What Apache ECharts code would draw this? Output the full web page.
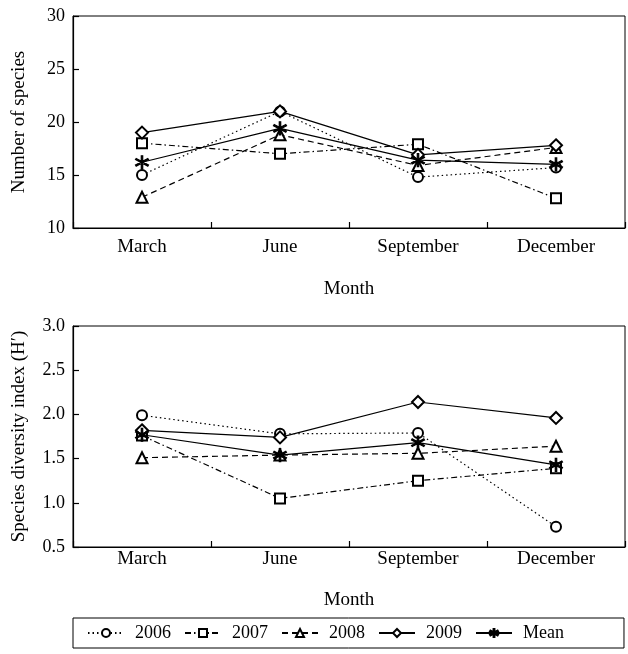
<!DOCTYPE html>
<html>
<head>
<meta charset="utf-8">
<script src="https://cdn.jsdelivr.net/npm/echarts@6/dist/echarts.min.js"></script>
<style>
  html, body { margin: 0; padding: 0; background: #fff; }
  #chart { width: 628px; height: 654px; }
</style>
</head>
<body>
<div id="chart"></div>
<script>
// Species number and diversity by month, 2006-2009 + mean

const months = ['March', 'June', 'September', 'December'];
const seriesNames = ['2006', '2007', '2008', '2009', 'Mean'];

// top panel: number of species
const species2006 = [15, 21, 14.8, 15.7];
const species2007 = [18, 17, 17.9, 12.8];
const species2008 = [12.9, 18.8, 15.9, 17.6];
const species2009 = [19, 21, 16.9, 17.8];
const speciesMean = [16.2, 19.4, 16.4, 16.0];

// bottom panel: diversity index H'
const diversity2006 = [1.99, 1.78, 1.79, 0.73];
const diversity2007 = [1.76, 1.05, 1.25, 1.39];
const diversity2008 = [1.51, 1.54, 1.56, 1.64];
const diversity2009 = [1.82, 1.74, 2.14, 1.96];
const diversityMean = [1.77, 1.54, 1.68, 1.43];

const speciesTicks = [10, 30, 5];
const diversityTicks = [0.5, 3.0, 0.5];

// asterisk marker for the mean
const star = 'path://M-1,-10L1,-10L1,10L-1,10Z' +
  'M9.16,4.134L8.16,5.866L-9.16,-4.134L-8.16,-5.866Z' +
  'M8.16,-5.866L9.16,-4.134L-8.16,5.866L-9.16,4.134Z';

const styles = {
  '2006': { symbol: 'emptyCircle', size: 10, dash: [1.5, 3] },
  '2007': { symbol: 'emptyRect', size: 10, dash: [6, 3, 1.5, 3] },
  '2008': { symbol: 'emptyTriangle', size: 11, dash: [6, 4] },
  '2009': { symbol: 'emptyDiamond', size: 12, dash: 'solid' },
  'Mean': { symbol: star, size: 13, dash: 'solid' },
};

const font = 'Liberation Serif';

function makeSeries(name, data, idx) {
  const s = styles[name];
  return {
    name: name,
    type: 'line',
    xAxisIndex: idx,
    yAxisIndex: idx,
    data: data,
    symbol: s.symbol,
    symbolSize: s.size,
    showAllSymbol: true,
    lineStyle: { color: '#000', width: 1.2, type: s.dash },
    itemStyle: { color: '#000', borderColor: '#000', borderWidth: 1.2 },
    emphasis: { disabled: true },
    z: name === 'Mean' ? 5 : 3,
  };
}

function xAxis(idx, margin, nameGap) {
  return {
    type: 'category',
    gridIndex: idx,
    data: months,
    boundaryGap: true,
    name: 'Month',
    nameLocation: 'middle',
    nameGap: nameGap,
    nameTextStyle: { fontFamily: font, fontSize: 19, color: '#000' },
    axisLine: { lineStyle: { color: '#000', width: 1.2 } },
    axisTick: { show: true, inside: true, length: 6, lineStyle: { color: '#000', width: 1.2 } },
    axisLabel: { fontFamily: font, fontSize: 19, color: '#000', margin: margin },
  };
}

function yAxis(idx, ticks, name, decimals) {
  return {
    type: 'value',
    gridIndex: idx,
    min: ticks[0],
    max: ticks[1],
    interval: ticks[2],
    name: name,
    nameLocation: 'middle',
    nameGap: 44,
    nameTextStyle: { fontFamily: font, fontSize: 19, color: '#000' },
    axisLine: { show: true, lineStyle: { color: '#000', width: 1.2 } },
    axisTick: { show: true, inside: true, length: 6, lineStyle: { color: '#000', width: 1.2 } },
    axisLabel: {
      fontFamily: font, fontSize: 18, color: '#000', margin: 8,
      formatter: v => v.toFixed(decimals),
    },
    splitLine: { show: false },
  };
}

const chart = echarts.init(document.getElementById('chart'), null, { renderer: 'canvas' });

const speciesData = [species2006, species2007, species2008, species2009, speciesMean];
const diversityData = [diversity2006, diversity2007, diversity2008, diversity2009, diversityMean];

chart.setOption({
  animation: false,
  backgroundColor: '#fff',
  grid: [
    { left: 73, right: 3, top: 16, height: 212, show: true, borderColor: '#000', borderWidth: 1, backgroundColor: 'transparent' },
    { left: 73, right: 3, top: 326, height: 221, show: true, borderColor: '#000', borderWidth: 1, backgroundColor: 'transparent' },
  ],
  xAxis: [xAxis(0, 10, 52), xAxis(1, 3, 44)],
  yAxis: [
    yAxis(0, speciesTicks, 'Number of species', 0),
    yAxis(1, diversityTicks, 'Species diversity index (H\u2032)', 1),
  ],
  legend: {
    data: seriesNames,
    left: 73,
    top: 618,
    padding: [6, 60, 6, 14],
    borderColor: '#000',
    borderWidth: 1,
    itemGap: 13,
    itemWidth: 36,
    itemHeight: 10,
    textStyle: { fontFamily: font, fontSize: 18, color: '#000', padding: [0, 0, 0, 6] },
    selectedMode: false,
  },
  series: seriesNames.map((n, i) => makeSeries(n, speciesData[i], 0))
    .concat(seriesNames.map((n, i) => makeSeries(n, diversityData[i], 1))),
});
</script>
</body>
</html>
